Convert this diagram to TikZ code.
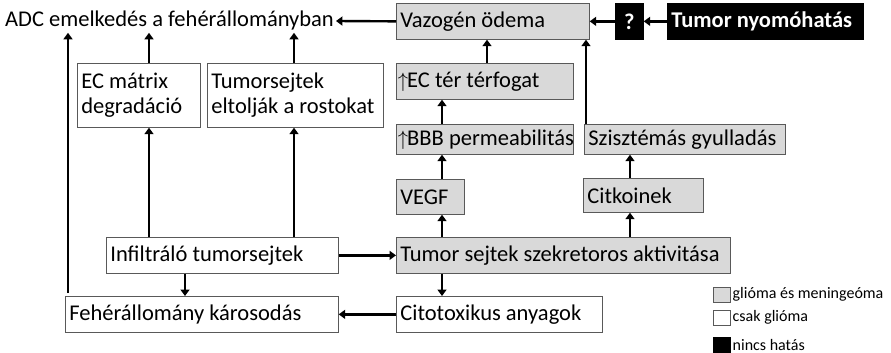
\documentclass[tikz,border=0pt]{standalone}
\usepackage{fontspec}
\setmainfont{Carlito}
\usetikzlibrary{arrows.meta,positioning}

\tikzset{
  vak/.style={draw=black!65, line width=0.7pt, rectangle, anchor=north west,
    inner xsep=4pt, inner ysep=0pt, align=flush left,
    font=\fontsize{22.5}{25}\selectfont},
  grijs/.style={vak, fill=black!15},
  wit/.style={vak, fill=white},
  zwart/.style={vak, draw=black, fill=black, text=white,
    font=\fontsize{22.5}{25}\selectfont\bfseries},
  pijl/.style={line width=2.4pt, -{Triangle[length=6.5pt,width=9pt]}},
  legvak/.style={draw=black!65, line width=0.5pt, minimum width=17pt,
    minimum height=15pt, inner sep=0pt, anchor=north west},
  legtekst/.style={right=2pt of #1, inner sep=0pt,
    font=\fontsize{16}{18}\selectfont},
}
\newcommand{\omhoog}{\mbox{$\uparrow$}\kern-1pt}

\begin{document}
\begin{tikzpicture}[x=1pt,y=-1pt]
  \useasboundingbox (0,0) rectangle (891,353);

  % Bovenste rij
  \node[anchor=west, inner sep=2pt, font=\fontsize{22.5}{25}\selectfont] (adc) at (3,21) {ADC emelkedés a fehérállományban};
  \node[grijs, minimum width=193pt, minimum height=36pt, text width=185pt] (vaz) at (396,3) {Vazogén ödema};
  \node[zwart, minimum width=28pt, minimum height=36pt, text width=20pt, align=center] (vraag) at (615,3) {?};
  \node[zwart, minimum width=196pt, minimum height=36pt, text width=188pt] (nyom) at (667,3) {Tumor nyomóhatás};

  % Linker vakken
  \node[wit, minimum width=123pt, minimum height=64pt, text width=115pt] (ecm) at (77,63) {EC mátrix\\degradáció};
  \node[wit, minimum width=176pt, minimum height=64pt, text width=168pt] (rost) at (207,63) {Tumorsejtek\\eltolják a rostokat};
  \node[wit, minimum width=232pt, minimum height=36pt, text width=224pt] (inf) at (106,237) {Infiltráló tumorsejtek};
  \node[wit, minimum width=273pt, minimum height=36pt, text width=265pt] (feh) at (65,296) {Fehérállomány károsodás};

  % Rechter vakken
  \node[grijs, inner xsep=1.5pt, minimum width=177pt, minimum height=36pt, text width=174pt] (ectr) at (396,63) {\mbox{\omhoog EC tér térfogat}};
  \node[grijs, inner xsep=1.5pt, minimum width=177pt, minimum height=30pt, text width=174pt] (bbb) at (396,124) {\mbox{\omhoog BBB permeabilitás}};
  \node[grijs, minimum width=201pt, minimum height=30pt, text width=193pt] (szi) at (584,124) {Szisztémás gyulladás};
  \node[grijs, minimum width=68pt, minimum height=35pt, text width=60pt] (vegf) at (396,179) {VEGF};
  \node[grijs, minimum width=120pt, minimum height=34pt, text width=112pt] (cit) at (583,178) {Citkoinek};
  \node[grijs, minimum width=334pt, minimum height=36pt, text width=326pt] (szek) at (396,237) {Tumor sejtek szekretoros aktivitása};
  \node[wit, minimum width=206pt, minimum height=36pt, text width=198pt] (ctx) at (396,296) {Citotoxikus anyagok};

  % Legenda
  \node[legvak, fill=black!15] (lg1) at (713,287) {};
  \node[legtekst=lg1] (lt1) {glióma és meningeóma};
  \node[legvak, fill=white] (lg2) at (713,310) {};
  \node[legtekst=lg2] (lt2) {csak glióma};
  \node[legvak, fill=black, draw=black] (lg3) at (713,337) {};
  \node[legtekst=lg3] (lt3) {nincs hatás};

  % Pijlen
  \draw[pijl] (vaz.west) -- (adc.east);
  \draw[pijl] (vraag.west) -- (vaz.east);
  \draw[pijl] (nyom.west) -- (vraag.east);
  \draw[pijl] (ectr.north -| 487,0) -- (vaz.south -| 487,0);
  \draw[pijl] (bbb.north -| 442,0) -- (ectr.south -| 442,0);
  \draw[pijl] (szi.north -| 586,0) -- (vaz.south -| 586,0);
  \draw[pijl] (vegf.north -| 442,0) -- (bbb.south -| 442,0);
  \draw[pijl] (cit.north -| 630,0) -- (szi.south -| 630,0);
  \draw[pijl] (szek.north -| 442,0) -- (vegf.south -| 442,0);
  \draw[pijl] (szek.north -| 630,0) -- (cit.south -| 630,0);
  \draw[pijl] (szek.south -| 442,0) -- (ctx.north -| 442,0);
  \draw[pijl] (ctx.west) -- (feh.east);
  \draw[pijl] (inf.east) -- (szek.west);
  \draw[pijl] (inf.south -| 185,0) -- (feh.north -| 185,0);
  \draw[pijl] (inf.north -| 149,0) -- (ecm.south -| 149,0);
  \draw[pijl] (inf.north -| 294,0) -- (rost.south -| 294,0);
  \draw[pijl] (ecm.north -| 149,0) -- (adc.south -| 149,0);
  \draw[pijl] (rost.north -| 294,0) -- (adc.south -| 294,0);
  \draw[pijl] ([yshift=3pt]feh.north -| 68,0) -- (adc.south -| 68,0);
\end{tikzpicture}
\end{document}
